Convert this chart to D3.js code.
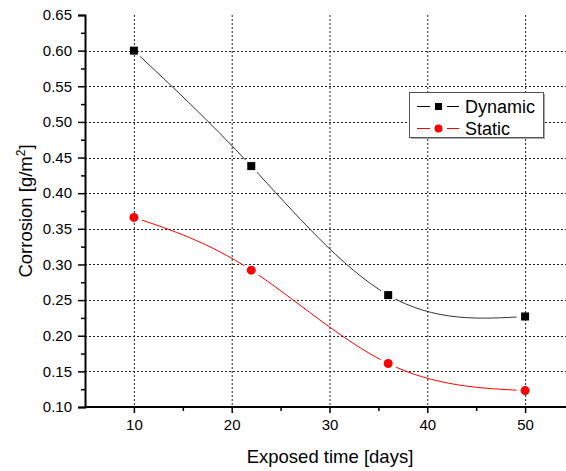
<!DOCTYPE html>
<html><head><meta charset="utf-8">
<script src="https://cdn.jsdelivr.net/npm/d3@7"></script>
<style>
html,body{margin:0;padding:0;background:#fff;}
text{font-family:"Liberation Sans",Arial,sans-serif;fill:#000;}
</style></head>
<body>
<script>
const days = [10, 22, 36, 50];
const dynamicValues = [0.600, 0.438, 0.257, 0.227];
const staticValues = [0.366, 0.292, 0.161, 0.123];
const xTicks = [10, 20, 30, 40, 50];
const yTicks = [0.10, 0.15, 0.20, 0.25, 0.30, 0.35, 0.40, 0.45, 0.50, 0.55, 0.60, 0.65];
const seriesNames = ["Dynamic", "Static"];

const W = 566, H = 471;
const svg = d3.select("body").append("svg").attr("width", W).attr("height", H);

const x = d3.scaleLinear().domain([5, 55]).range([85, 574]);
const y = d3.scaleLinear().domain([0.10, 0.65]).range([407, 15]);

// grid
const grid = svg.append("g").attr("stroke", "#222").attr("stroke-width", 1).attr("stroke-dasharray", "2,2");
grid.selectAll("line.v").data(xTicks).join("line")
  .attr("x1", d => x(d) + 0.5).attr("x2", d => x(d) + 0.5)
  .attr("y1", y(0.65)).attr("y2", y(0.10));
grid.selectAll("line.h").data(yTicks.filter(d => d > 0.11 && d < 0.64)).join("line")
  .attr("y1", d => Math.round(y(d)) + 0.5).attr("y2", d => Math.round(y(d)) + 0.5)
  .attr("x1", x(5)).attr("x2", W);

// axes
const xAxis = d3.axisBottom(x).tickValues(xTicks).tickSize(6).tickPadding(6).tickFormat(d3.format("d"));
const xMinor = d3.axisBottom(x).tickValues([15, 25, 35, 45]).tickSize(4).tickFormat("");
const yAxis = d3.axisLeft(y).tickValues(yTicks).tickSize(7).tickPadding(6).tickFormat(d3.format(".2f"));
const yMinor = d3.axisLeft(y).tickValues(d3.range(0.125, 0.65, 0.05)).tickSize(4).tickFormat("");

function styleAxis(g) {
  g.select(".domain").attr("stroke", "#000").attr("stroke-width", 2);
  g.selectAll(".tick line").attr("stroke", "#000").attr("stroke-width", 1.5);
  g.selectAll("text").style("font-size", "15px").attr("fill", "#000");
}
const gx = svg.append("g").attr("transform", `translate(0,${y(0.10)})`).call(xAxis).call(styleAxis);
gx.select(".domain").attr("d", `M${x(5)},0H${W}`);
svg.append("g").attr("transform", `translate(0,${y(0.10)})`).call(xMinor).call(styleAxis).select(".domain").remove();
const gy = svg.append("g").attr("transform", `translate(${x(5)},0)`).call(yAxis).call(styleAxis);
svg.append("g").attr("transform", `translate(${x(5)},0)`).call(yMinor).call(styleAxis).select(".domain").remove();

// axis titles
svg.append("text").attr("x", 330).attr("y", 463).attr("text-anchor", "middle")
  .style("font-size", "18.5px").text("Exposed time [days]");
const yt = svg.append("text").attr("transform", `translate(32,211) rotate(-90)`).attr("text-anchor", "middle")
  .style("font-size", "18.5px");
yt.append("tspan").text("Corrosion [g/m");
yt.append("tspan").attr("dy", -7).style("font-size", "12px").text("2");
yt.append("tspan").attr("dy", 7).text("]");

// series
const series = [
  {name: seriesNames[0], values: dynamicValues, color: "#000", line: "#333", shape: "square"},
  {name: seriesNames[1], values: staticValues, color: "#ff0000", line: "#ff0000", shape: "circle"}
];
const defs = svg.append("defs");
const lineGen = d3.line().x(d => x(d[0])).y(d => y(d[1])).curve(d3.curveNatural);

series.forEach((s, i) => {
  const pts = days.map((d, j) => [d, s.values[j]]);
  const m = defs.append("mask").attr("id", "m" + i).attr("maskUnits", "userSpaceOnUse")
    .attr("x", 0).attr("y", 0).attr("width", W).attr("height", H);
  m.append("rect").attr("width", W).attr("height", H).attr("fill", "#fff");
  m.selectAll("circle").data(pts).join("circle")
    .attr("cx", d => x(d[0])).attr("cy", d => y(d[1])).attr("r", 8.5).attr("fill", "#000");
  svg.append("path").datum(pts).attr("d", lineGen).attr("fill", "none")
    .attr("stroke", s.line).attr("stroke-width", 1).attr("mask", `url(#m${i})`);
  const g = svg.append("g");
  if (s.shape === "square") {
    g.selectAll("rect").data(pts).join("rect")
      .attr("x", d => x(d[0]) - 4).attr("y", d => y(d[1]) - 4)
      .attr("width", 8).attr("height", 8).attr("fill", s.color);
  } else {
    g.selectAll("circle").data(pts).join("circle")
      .attr("cx", d => x(d[0])).attr("cy", d => y(d[1])).attr("r", 4.5).attr("fill", s.color);
  }
});

// legend
const lg = svg.append("g");
lg.append("rect").attr("x", 411).attr("y", 94).attr("width", 134).attr("height", 45).attr("fill", "#aaa");
lg.append("rect").attr("x", 409.5).attr("y", 92.5).attr("width", 134).attr("height", 45)
  .attr("fill", "#fff").attr("stroke", "#555").attr("stroke-width", 1);
series.forEach((s, i) => {
  const cy = 106.5 + i * 22;
  lg.append("line").attr("x1", 417).attr("x2", 459).attr("y1", cy).attr("y2", cy)
    .attr("stroke", s.color).attr("stroke-width", 1);
  if (s.shape === "square") {
    lg.append("line").attr("x1", 430).attr("x2", 447).attr("y1", cy).attr("y2", cy).attr("stroke", "#fff").attr("stroke-width", 2);
    lg.append("rect").attr("x", 435).attr("y", cy - 3.5).attr("width", 7).attr("height", 7).attr("fill", s.color);
  } else {
    lg.append("line").attr("x1", 430).attr("x2", 447).attr("y1", cy).attr("y2", cy).attr("stroke", "#fff").attr("stroke-width", 2);
    lg.append("circle").attr("cx", 438.5).attr("cy", cy).attr("r", 4).attr("fill", s.color);
  }
  lg.append("text").attr("x", 465).attr("y", cy + 6.5).style("font-size", "18px").text(s.name);
});
</script>
</body></html>
